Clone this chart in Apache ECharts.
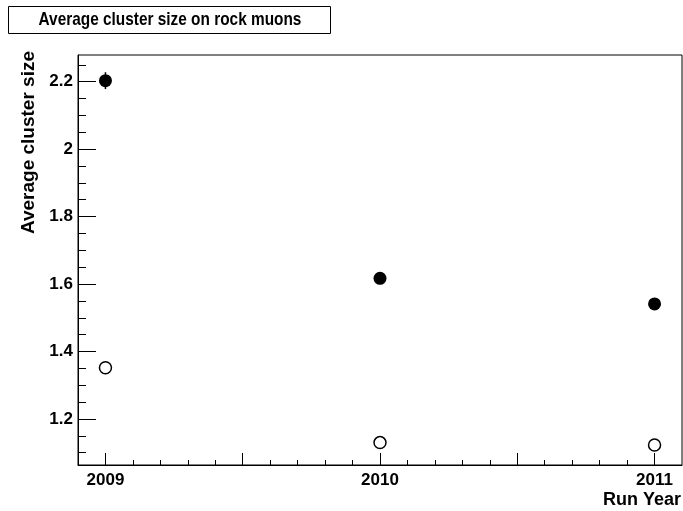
<!DOCTYPE html>
<html>
<head>
<meta charset="utf-8">
<script src="https://cdn.jsdelivr.net/npm/echarts@6/dist/echarts.min.js"></script>
<style>
  html, body { margin: 0; padding: 0; background: #fff; }
  #chart { width: 683px; height: 511px; }
</style>
</head>
<body>
<div id="chart"></div>
<script>
// Run years and measured average cluster sizes
const years = [2009, 2010, 2011];
const filledValues = [2.203, 1.617, 1.541];
const filledErrors = [0.025, 0.004, 0.004];
const openValues = [1.352, 1.130, 1.123];
const openErrors = [0.004, 0.004, 0.004];

// Axis tick labels
const xTickLabels = [2009, 2010, 2011];
const yTickLabels = [1.2, 1.4, 1.6, 1.8, 2.0, 2.2];

const X_MIN = 2008.9, X_MAX = 2011.1;
const Y_MIN = 1.0636, Y_MAX = 2.279;

// tick positions: half-year primary ticks, 0.1 secondary ticks
const xMajorTicks = [];
const xMinorTicks = [];
for (let i = 0; i <= 20; i++) {
  const v = +(2009 + i * 0.1).toFixed(1);
  if (i % 5 === 0) xMajorTicks.push(v); else xMinorTicks.push(v);
}
const yMinorTicks = [];
for (let i = 0; i <= 30; i++) {
  const v = +(1.0 + i * 0.05).toFixed(2);
  if (v > Y_MIN && v < Y_MAX && Math.abs((v * 100) % 20) > 1e-6) yMinorTicks.push(v);
}

const FONT = '"Liberation Sans", Arial, Helvetica, sans-serif';
const labelStyle = { color: '#000', fontFamily: FONT, fontWeight: 'bold', fontSize: 17 };

const toPoints = (vals, errs) => years.map((y, i) => [y, vals[i], errs[i]]);

const errorBars = (data) => ({
  type: 'custom',
  xAxisIndex: 0,
  yAxisIndex: 0,
  z: 2,
  data: data,
  renderItem: function (params, api) {
    const x = api.value(0), y = api.value(1), e = api.value(2);
    const p1 = api.coord([x, y - e]);
    const p2 = api.coord([x, y + e]);
    return {
      type: 'line',
      shape: { x1: p1[0], y1: p1[1], x2: p2[0], y2: p2[1] },
      style: { stroke: '#000', lineWidth: 1.5 }
    };
  }
});

const chart = echarts.init(document.getElementById('chart'), null, { renderer: 'canvas' });

chart.setOption({
  animation: false,
  backgroundColor: '#fff',
  grid: {
    left: 78, top: 55, right: 1, bottom: 46,
    show: true, borderColor: '#000', borderWidth: 1,
    outerBoundsMode: 'none'
  },
  xAxis: [
    {
      type: 'value', min: X_MIN, max: X_MAX,
      axisLine: { show: true, onZero: false, lineStyle: { color: '#000', width: 1 } },
      axisTick: { show: true, inside: true, length: 12, customValues: xMajorTicks, lineStyle: { color: '#000' } },
      axisLabel: { show: true, customValues: xTickLabels, margin: 7, ...labelStyle,
                   formatter: (v) => String(Math.round(v)) },
      splitLine: { show: false }
    },
    {
      type: 'value', min: X_MIN, max: X_MAX, position: 'bottom',
      axisLine: { show: false },
      axisTick: { show: true, inside: true, length: 5, customValues: xMinorTicks, lineStyle: { color: '#000' } },
      axisLabel: { show: false },
      splitLine: { show: false }
    }
  ],
  yAxis: [
    {
      type: 'value', min: Y_MIN, max: Y_MAX,
      axisLine: { show: true, onZero: false, lineStyle: { color: '#000', width: 1 } },
      axisTick: { show: true, inside: true, length: 18, customValues: yTickLabels, lineStyle: { color: '#000' } },
      axisLabel: { show: true, customValues: yTickLabels, margin: 5, ...labelStyle,
                   formatter: (v) => String(+v.toFixed(1)) },
      splitLine: { show: false }
    },
    {
      type: 'value', min: Y_MIN, max: Y_MAX, position: 'left',
      axisLine: { show: false },
      axisTick: { show: true, inside: true, length: 8, customValues: yMinorTicks, lineStyle: { color: '#000' } },
      axisLabel: { show: false },
      splitLine: { show: false }
    }
  ],
  series: [
    errorBars(toPoints(filledValues, filledErrors)),
    errorBars(toPoints(openValues, openErrors)),
    {
      type: 'scatter', xAxisIndex: 0, yAxisIndex: 0, z: 3,
      symbol: 'circle', symbolSize: 13,
      itemStyle: { color: '#000', opacity: 1 },
      data: toPoints(filledValues, filledErrors).map(p => [p[0], p[1]])
    },
    {
      type: 'scatter', xAxisIndex: 0, yAxisIndex: 0, z: 3,
      symbol: 'circle', symbolSize: 12,
      itemStyle: { color: '#fff', borderColor: '#000', borderWidth: 1.5, opacity: 1 },
      data: toPoints(openValues, openErrors).map(p => [p[0], p[1]])
    }
  ],
  graphic: [
    {
      type: 'rect', left: 8, top: 6,
      shape: { x: 0, y: 0, width: 322, height: 27 },
      style: { fill: '#fff', stroke: '#000', lineWidth: 1 }
    },
    {
      type: 'text', x: 170, y: 20, scaleX: 0.81,
      style: { text: 'Average cluster size on rock muons', fill: '#000',
               font: 'bold 19px ' + FONT, textAlign: 'center', textVerticalAlign: 'middle' }
    },
    {
      type: 'text', x: 29, y: 51, rotation: Math.PI / 2,
      style: { text: 'Average cluster size', fill: '#000',
               font: 'bold 19px ' + FONT, textAlign: 'right', textVerticalAlign: 'middle' }
    },
    {
      type: 'text', x: 681, y: 509,
      style: { text: 'Run Year', fill: '#000',
               font: 'bold 18px ' + FONT, textAlign: 'right', textVerticalAlign: 'bottom' }
    }
  ]
});
</script>
</body>
</html>
